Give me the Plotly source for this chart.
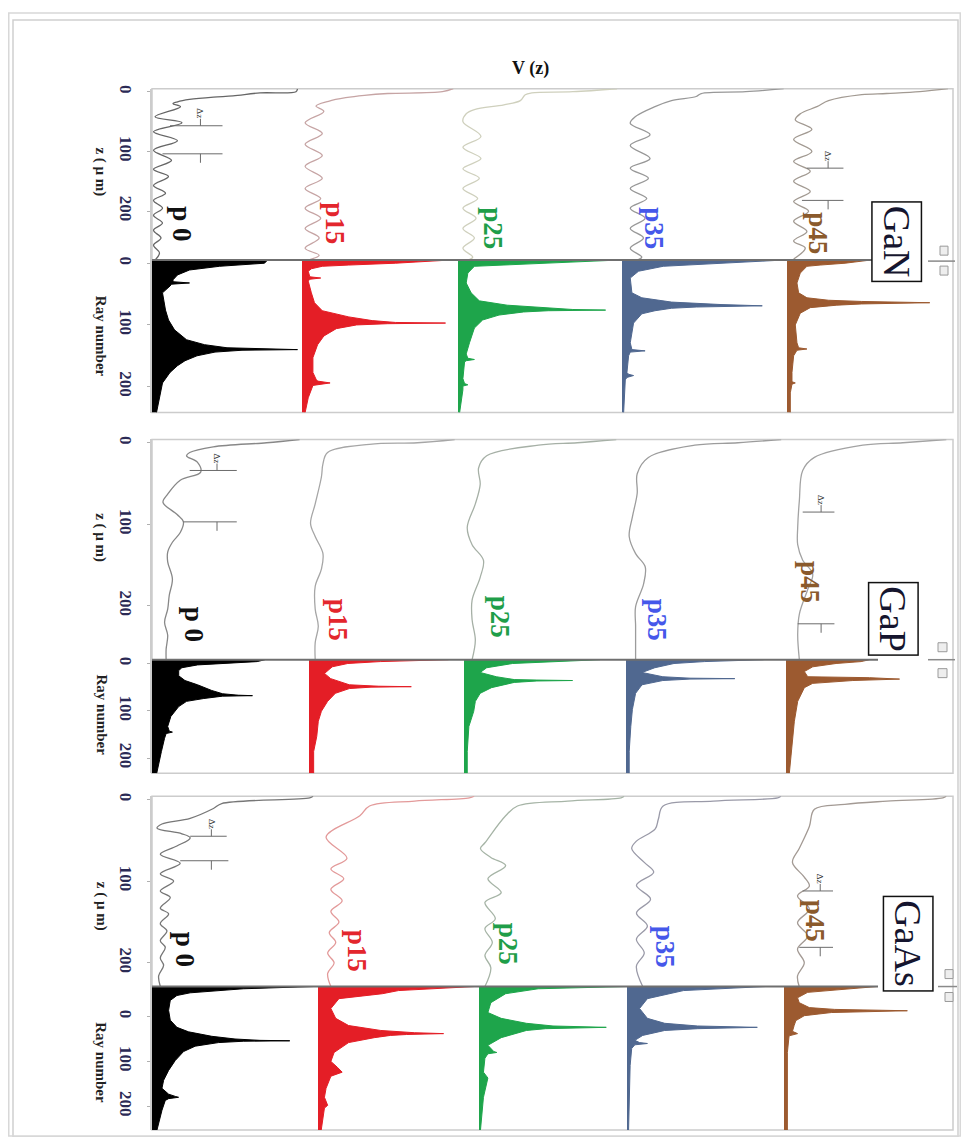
import plotly.graph_objects as go

# ------------------------------------------------------------------ data
COLS = ["p 0", "p15", "p25", "p35", "p45"]
MATERIALS = ["GaN", "GaP", "GaAs"]
AXIS_TICKS = [0, 100, 200]

# ---- GaN : V(z) curves (z in um, amplitude as fraction of column width)
GAN_P0_Z = [-5, 0, 2, 7, 9, 13, 17, 20, 25, 42, 52, 67, 82, 98, 115, 130, 142, 157, 170, 182, 195, 207, 220, 232, 245, 257, 270, 282]
GAN_P0_V = [.97, .96, .72, .54, .41, .25, .17, .14, .19, .02, .2, .01, .17, .01, .13, .01, .11, .01, .09, .01, .07, .01, .07, .01, .06, .01, .05, .02]
GAN_P15_Z = [-5, 0, 3, 6, 10, 16, 24, 33, 52, 70, 88, 107, 125, 145, 162, 179, 195, 212, 229, 245, 262, 274, 282]
GAN_P15_V = [.97, .9, .55, .4, .28, .17, .09, .14, .02, .13, .02, .13, .02, .13, .02, .12, .02, .12, .02, .11, .02, .11, .04]
GAN_P25_Z = [-5, 0, 2, 5, 15, 22, 30, 37, 50, 75, 93, 112, 129, 145, 162, 179, 195, 212, 229, 245, 262, 277, 282]
GAN_P25_V = [.97, .7, .45, .41, .38, .28, .1, .05, .03, .14, .03, .14, .03, .13, .03, .12, .03, .11, .03, .1, .03, .09, .06]
GAN_P35_Z = [-5, 0, 3, 8, 15, 25, 42, 53, 72, 90, 112, 128, 145, 162, 179, 195, 212, 229, 245, 262, 277, 282]
GAN_P35_V = [.98, .75, .48, .45, .3, .2, .08, .05, .17, .05, .17, .05, .16, .05, .15, .05, .14, .05, .13, .05, .12, .09]
GAN_P45_Z = [-5, 0, 3, 5, 15, 25, 37, 47, 63, 80, 100, 117, 133, 150, 167, 184, 200, 217, 234, 250, 262, 280]
GAN_P45_V = [.97, .8, .6, .45, .25, .18, .08, .05, .15, .04, .15, .04, .14, .04, .14, .04, .13, .04, .12, .04, .11, .04]

# ---- GaN : ray-number histograms
GAN_H0_R = [-5, 0, 5, 11, 19, 27, 30, 32, 34, 37, 48, 76, 92, 108, 124, 132, 137, 139, 140, 141, 144, 150, 158, 166, 177, 194, 221, 242]
GAN_H0_A = [.77, .75, .45, .25, .17, .14, .14, .25, .13, .12, .07, .09, .11, .15, .23, .35, .5, .75, .97, .6, .42, .3, .22, .17, .12, .07, .05, .03]
GAN_H1_R = [-5, 0, 3, 5, 9, 13, 22, 24, 26, 29, 48, 64, 77, 87, 93, 96, 97, 98, 100, 106, 118, 132, 153, 177, 188, 191, 194, 198, 218, 242]
GAN_H1_A = [.94, .6, .3, .13, .06, .04, .05, .12, .05, .04, .06, .08, .13, .3, .45, .6, .92, .55, .35, .22, .14, .1, .07, .07, .09, .1, .18, .07, .04, .02]
GAN_H2_R = [-5, 0, 3, 5, 16, 32, 48, 61, 68, 72, 75, 76, 77, 79, 84, 92, 105, 129, 147, 154, 156, 158, 160, 187, 195, 197, 199, 205, 242]
GAN_H2_A = [.97, .5, .2, .1, .06, .05, .08, .13, .3, .5, .7, .9, .55, .4, .25, .15, .1, .07, .05, .06, .1, .05, .04, .03, .04, .06, .03, .03, .01]
GAN_H3_R = [-5, 0, 3, 5, 13, 24, 48, 56, 63, 67, 69, 71, 73, 77, 82, 97, 129, 140, 142, 144, 150, 177, 180, 182, 185, 189, 242]
GAN_H3_A = [.97, .6, .35, .25, .1, .05, .06, .12, .3, .6, .85, .45, .3, .2, .12, .07, .05, .06, .14, .05, .04, .03, .04, .07, .03, .02, .01]
GAN_H4_R = [-5, 0, 3, 5, 16, 32, 48, 56, 60, 62, 64, 66, 68, 72, 81, 100, 129, 137, 139, 141, 150, 177, 192, 194, 196, 210, 242]
GAN_H4_A = [.5, .35, .2, .12, .08, .06, .07, .12, .25, .45, .86, .45, .3, .14, .08, .05, .06, .07, .12, .06, .04, .03, .03, .05, .03, .02, .02]

# ---- GaP : V(z) curves
GAP_P0_Z = [-4, 0, 5, 12, 16, 24, 36, 46, 63, 73, 88, 97, 110, 122, 134, 146, 167, 187, 204, 220, 236, 253, 266]
GAP_P0_V = [.94, .73, .39, .24, .22, .29, .31, .18, .1, .07, .16, .2, .18, .13, .1, .1, .13, .11, .1, .08, .1, .09, .09]
GAP_P15_Z = [-4, 0, 2, 12, 26, 42, 75, 99, 115, 136, 155, 176, 204, 225, 245, 266]
GAP_P15_V = [.94, .7, .39, .12, .09, .08, .04, .01, .04, .09, .08, .04, .04, .06, .04, .04]
GAP_P25_Z = [-4, 0, 3, 16, 31, 51, 75, 104, 125, 144, 165, 193, 217, 242, 266]
GAP_P25_V = [.94, .7, .46, .14, .09, .1, .07, .02, .05, .12, .1, .05, .05, .07, .05]
GAP_P35_Z = [-4, 0, 3, 18, 38, 62, 91, 115, 136, 152, 173, 201, 225, 250, 266]
GAP_P35_V = [.97, .7, .43, .14, .07, .07, .04, .02, .06, .12, .11, .06, .06, .06, .06]
GAP_P45_Z = [-4, 0, 3, 18, 34, 71, 104, 125, 144, 161, 180, 210, 235, 266]
GAP_P45_V = [.96, .7, .46, .17, .1, .08, .07, .07, .1, .16, .13, .08, .07, .08]

# ---- GaP : ray-number histograms
GAP_H0_R = [-8, -4, 3, 9, 15, 26, 36, 45, 57, 64, 67, 68, 69, 71, 74, 80, 91, 112, 133, 143, 145, 148, 158, 186, 220, 232]
GAP_H0_A = [.72, .67, .29, .19, .17, .17, .21, .29, .38, .45, .55, .64, .45, .38, .33, .22, .17, .12, .1, .11, .13, .09, .08, .06, .04, .03]
GAP_H1_R = [-8, -4, 0, 7, 21, 32, 45, 48, 49, 50, 53, 63, 80, 101, 122, 154, 186, 232]
GAP_H1_A = [.9, .46, .25, .15, .1, .14, .26, .45, .66, .4, .26, .17, .12, .08, .06, .05, .03, .03]
GAP_H2_R = [-8, -4, 0, 9, 19, 28, 34, 35, 36, 37, 40, 51, 63, 80, 101, 133, 186, 232]
GAP_H2_A = [.84, .52, .3, .14, .1, .2, .31, .45, .67, .45, .31, .17, .1, .07, .06, .03, .02, .02]
GAP_H3_R = [-8, -4, 0, 9, 19, 28, 31, 32, 33, 36, 45, 63, 97, 133, 186, 232]
GAP_H3_A = [.86, .49, .3, .18, .1, .23, .4, .68, .4, .23, .1, .06, .04, .03, .02, .02]
GAP_H4_R = [-8, -4, 0, 7, 17, 28, 30, 33, 36, 42, 51, 80, 122, 165, 232]
GAP_H4_A = [.5, .45, .3, .16, .11, .13, .5, .68, .4, .16, .11, .07, .05, .04, .02]

# ---- GaAs : V(z) curves
GAAS_P0_Z = [-4, -2, 5, 11, 23, 30, 35, 42, 47, 57, 67, 78, 91, 100, 112, 120, 133, 140, 152, 161, 173, 181, 194, 203, 216, 229]
GAAS_P0_V = [.97, .95, .42, .37, .23, .06, .03, .18, .23, .15, .05, .17, .05, .13, .05, .11, .05, .1, .05, .09, .05, .08, .05, .07, .04, .05]
GAAS_P15_Z = [-4, -2, 2, 8, 20, 46, 72, 85, 97, 110, 124, 137, 150, 163, 175, 188, 200, 213, 229]
GAAS_P15_V = [.97, .94, .6, .32, .26, .05, .18, .08, .16, .08, .15, .08, .13, .07, .11, .06, .1, .06, .08]
GAAS_P25_Z = [-4, -2, 2, 8, 20, 53, 60, 71, 81, 97, 114, 126, 146, 158, 175, 191, 206, 229]
GAAS_P25_V = [.98, .96, .6, .26, .18, .04, .01, .08, .18, .06, .15, .04, .11, .04, .09, .04, .08, .04]
GAAS_P35_Z = [-4, -2, 2, 8, 24, 36, 51, 60, 77, 89, 105, 122, 139, 155, 171, 188, 204, 229]
GAAS_P35_V = [.98, .96, .55, .23, .2, .18, .06, .03, .11, .17, .06, .15, .06, .13, .06, .11, .06, .1]
GAAS_P45_Z = [-4, -2, 2, 6, 12, 33, 60, 77, 95, 106, 118, 134, 151, 167, 183, 200, 216, 229]
GAAS_P45_V = [.96, .94, .61, .36, .18, .15, .09, .05, .12, .15, .08, .15, .08, .14, .08, .12, .08, .09]

# ---- GaAs : ray-number histograms
GAAS_H0_R = [-67, -62, -53, -47, -36, -14, 8, 24, 34, 44, 50, 53, 54, 55, 58, 66, 78, 98, 120, 142, 160, 173, 178, 180, 183, 187, 209, 253]
GAAS_H0_A = [.97, .55, .23, .15, .11, .1, .11, .15, .22, .36, .5, .65, .83, .55, .4, .26, .19, .14, .1, .07, .06, .1, .14, .16, .1, .08, .06, .03]
GAAS_H1_R = [-67, -58, -51, -40, -18, 4, 20, 31, 36, 38, 40, 42, 47, 58, 80, 100, 113, 124, 133, 160, 180, 198, 204, 253]
GAAS_H1_A = [.97, .5, .4, .13, .08, .11, .19, .39, .6, .78, .55, .45, .35, .19, .1, .08, .12, .15, .08, .05, .04, .06, .04, .02]
GAAS_H2_R = [-67, -62, -51, -31, -9, 4, 15, 21, 24, 27, 31, 47, 64, 78, 80, 83, 93, 124, 137, 180, 253]
GAAS_H2_A = [.99, .4, .18, .08, .06, .15, .32, .5, .86, .45, .32, .15, .06, .1, .12, .06, .04, .03, .06, .03, .01]
GAAS_H3_R = [-67, -58, -40, -18, 4, 15, 21, 24, 27, 31, 42, 53, 58, 60, 63, 71, 109, 253]
GAAS_H3_A = [.88, .36, .13, .08, .13, .24, .45, .83, .45, .24, .1, .05, .08, .13, .05, .03, .02, .01]
GAAS_H4_R = [-67, -54, -42, -31, -20, -16, -13, -11, -9, -2, 9, 20, 33, 38, 43, 80, 253]
GAAS_H4_A = [.55, .14, .08, .09, .15, .3, .73, .4, .28, .12, .07, .06, .05, .08, .03, .02, .02]

# ---- Delta-z markers (two z levels each, with amplitude extents)
GAN_DZ0_Z, GAN_DZ0_A0, GAN_DZ0_A1 = [57, 104], [.12, .07], [.47, .47]
GAN_DZ4_Z, GAN_DZ4_A0, GAN_DZ4_A1 = [128, 182], [.12, .09], [.34, .34]
GAP_DZ0_Z, GAP_DZ0_A0, GAP_DZ0_A1 = [34, 97], [.24, .2], [.54, .54]
GAP_DZ4_Z, GAP_DZ4_A0, GAP_DZ4_A1 = [85, 222], [.1, .07], [.29, .29]
GAAS_DZ0_Z, GAAS_DZ0_A0, GAAS_DZ0_A1 = [45, 75], [.23, .17], [.45, .46]
GAAS_DZ4_Z, GAAS_DZ4_A0, GAAS_DZ4_A1 = [112, 181], [.11, .09], [.29, .29]

VZ = [
    [(GAN_P0_Z, GAN_P0_V), (GAN_P15_Z, GAN_P15_V), (GAN_P25_Z, GAN_P25_V), (GAN_P35_Z, GAN_P35_V), (GAN_P45_Z, GAN_P45_V)],
    [(GAP_P0_Z, GAP_P0_V), (GAP_P15_Z, GAP_P15_V), (GAP_P25_Z, GAP_P25_V), (GAP_P35_Z, GAP_P35_V), (GAP_P45_Z, GAP_P45_V)],
    [(GAAS_P0_Z, GAAS_P0_V), (GAAS_P15_Z, GAAS_P15_V), (GAAS_P25_Z, GAAS_P25_V), (GAAS_P35_Z, GAAS_P35_V), (GAAS_P45_Z, GAAS_P45_V)],
]
HIST = [
    [(GAN_H0_R, GAN_H0_A), (GAN_H1_R, GAN_H1_A), (GAN_H2_R, GAN_H2_A), (GAN_H3_R, GAN_H3_A), (GAN_H4_R, GAN_H4_A)],
    [(GAP_H0_R, GAP_H0_A), (GAP_H1_R, GAP_H1_A), (GAP_H2_R, GAP_H2_A), (GAP_H3_R, GAP_H3_A), (GAP_H4_R, GAP_H4_A)],
    [(GAAS_H0_R, GAAS_H0_A), (GAAS_H1_R, GAAS_H1_A), (GAAS_H2_R, GAAS_H2_A), (GAAS_H3_R, GAAS_H3_A), (GAAS_H4_R, GAAS_H4_A)],
]
DZ = [
    [(0, GAN_DZ0_Z, GAN_DZ0_A0, GAN_DZ0_A1), (4, GAN_DZ4_Z, GAN_DZ4_A0, GAN_DZ4_A1)],
    [(0, GAP_DZ0_Z, GAP_DZ0_A0, GAP_DZ0_A1), (4, GAP_DZ4_Z, GAP_DZ4_A0, GAP_DZ4_A1)],
    [(0, GAAS_DZ0_Z, GAAS_DZ0_A0, GAAS_DZ0_A1), (4, GAAS_DZ4_Z, GAAS_DZ4_A0, GAAS_DZ4_A1)],
]

# ------------------------------------------------------------------ layout / style
W, H = 969, 1145
OFF = 8                      # default body margin of the html page
FW, FH = W - 2 * OFF, H - 2 * OFF
RIGHT = 953
SERIF = "Liberation Serif"

PANELS = [
    dict(top=85, mid=257, bot=410, lefts=[152, 302, 458, 622, 787],
         vz_rng=(-5, 282), h_rng=(-5, 242),
         labels=[(182, 220), (335, 220), (493, 225), (654, 225), (818, 230)],
         mat=(897, 238), ztitle=(101, 168), rtitle=(101, 333),
         icons=dict(line=(928, 955, 258), sq=[(940, 948, 243, 252), (940, 948, 263, 272)])),
    dict(top=437, mid=658, bot=772, lefts=[152, 309, 464, 626, 786],
         vz_rng=(-4, 266), h_rng=(-8, 232),
         labels=[(194, 622), (338, 618), (500, 615), (657, 618), (810, 580)],
         mat=(893, 617), ztitle=(101, 535), rtitle=(102, 713),
         icons=dict(line=(928, 955, 658), sq=[(938, 947, 641, 650), (938, 947, 667, 676)])),
    dict(top=795, mid=986, bot=1130, lefts=[152, 318, 479, 627, 784],
         vz_rng=(-4, 229), h_rng=(-67, 253),
         labels=[(185, 948), (357, 950), (508, 943), (665, 946), (815, 920)],
         mat=(908, 943), ztitle=(101, 905), rtitle=(101, 1062),
         icons=dict(line=(938, 957, 986), sq=[(945, 953, 969, 978), (945, 953, 992, 1001)])),
]

LABEL_COLORS = ["#111111", "#e3262d", "#1f9e49", "#4558ea", "#8a5a2c"]
HIST_COLORS = ["#000000", "#e41e26", "#1ea54b", "#506890", "#9c5a30"]
VZ_COLORS = [
    ["#666666", "#c6a4a4", "#cfd0bd", "#989898", "#a29a92"],
    ["#888888", "#a6a6a6", "#a6b0a6", "#9c9c9c", "#a3a3a3"],
    ["#777777", "#e39a9a", "#a6b4a6", "#9a9aa8", "#a39a94"],
]


def fx(x):
    return (x - OFF) / FW


def fy(y):
    return 1 - (y - OFF) / FH


def axname(kind, n):
    return kind if n == 1 else f"{kind}{n}"


def note(**kw):
    kw.setdefault("xanchor", "center")
    kw.setdefault("yanchor", "middle")
    kw.setdefault("showarrow", False)
    return kw


fig = go.Figure()
layout = {}
annotations = []
shapes = []

for p, P in enumerate(PANELS):
    rights = P["lefts"][1:] + [RIGHT]
    for r in range(2):
        j = p * 2 + r + 1
        top, bot = (P["top"], P["mid"]) if r == 0 else (P["mid"], P["bot"])
        lo, hi = P["vz_rng"] if r == 0 else P["h_rng"]
        first_x = p * 10 + r * 5 + 1
        layout["yaxis" if j == 1 else f"yaxis{j}"] = dict(
            domain=[fy(bot), fy(top)], range=[hi, lo], anchor=axname("x", first_x),
            tickvals=AXIS_TICKS, ticktext=[f"<b>{t}</b>" for t in AXIS_TICKS],
            tickangle=90, tickfont=dict(family=SERIF, size=17, color="#2b2a55"),
            ticks="outside", ticklen=3, tickcolor="#b0b0b0", ticklabelstandoff=7,
            showline=True, linecolor="#cccccc", linewidth=1.5,
            showgrid=False, zeroline=False, fixedrange=True)
        for c in range(5):
            k = p * 10 + r * 5 + c + 1
            layout["xaxis" if k == 1 else f"xaxis{k}"] = dict(
                domain=[fx(P["lefts"][c]), fx(rights[c])], range=[0, 1],
                anchor=axname("y", j), visible=False, fixedrange=True)
            xa, ya = axname("x", k), axname("y", j)
            if r == 0:
                zz, vv = VZ[p][c]
                fig.add_trace(go.Scatter(
                    x=vv, y=zz, mode="lines", xaxis=xa, yaxis=ya,
                    line=dict(color=VZ_COLORS[p][c], width=1.3, shape="spline", smoothing=1.0),
                    showlegend=False, hoverinfo="skip"))
            else:
                rr, aa = HIST[p][c]
                fig.add_trace(go.Scatter(
                    x=aa, y=rr, mode="lines", xaxis=xa, yaxis=ya, fill="tozerox",
                    fillcolor=HIST_COLORS[c], line=dict(color=HIST_COLORS[c], width=1),
                    showlegend=False, hoverinfo="skip"))

    # delta-z markers
    lo, hi = P["vz_rng"]
    upp = (hi - lo) / (P["mid"] - P["top"])   # data units per pixel
    for c, zs, a0s, a1s in DZ[p]:
        k = p * 10 + c + 1
        xa, ya = axname("x", k), axname("y", p * 2 + 1)
        fig.add_trace(go.Scatter(
            x=[a0s[0], a1s[0], None, a0s[1], a1s[1]], y=[zs[0], zs[0], None, zs[1], zs[1]],
            mode="lines", xaxis=xa, yaxis=ya, line=dict(color="#6b6b6b", width=1),
            showlegend=False, hoverinfo="skip"))
        am = a1s[0] - 0.42 * (a1s[0] - a0s[0])
        fig.add_trace(go.Scatter(
            x=[am, am, None, am, am], y=[zs[0] - 7 * upp, zs[0], None, zs[1], zs[1] + 9 * upp],
            mode="lines", xaxis=xa, yaxis=ya, line=dict(color="#6b6b6b", width=1),
            showlegend=False, hoverinfo="skip"))
        annotations.append(note(
            x=am, y=zs[0] - 12 * upp, xref=xa, yref=ya, text="Δz",
            textangle=90, font=dict(family=SERIF, size=9, color="#333333")))

    # column labels
    for c, (lx, ly) in enumerate(P["labels"]):
        annotations.append(note(
            x=fx(lx), y=fy(ly), xref="paper", yref="paper", text=f"<b>{COLS[c]}</b>",
            textangle=90, font=dict(family=SERIF, size=27, color=LABEL_COLORS[c])))

    # material box
    mx, my = P["mat"]
    annotations.append(note(
        x=fx(mx), y=fy(my), xref="paper", yref="paper", text=MATERIALS[p],
        textangle=90, bordercolor="#111111", borderwidth=1.5,
        borderpad=3, bgcolor="#ffffff",
        font=dict(family=SERIF, size=38, color="#15152e")))

    # axis titles
    for (tx, ty), txt in ((P["ztitle"], "z ( μ m)"), (P["rtitle"], "Ray number")):
        annotations.append(note(
            x=fx(tx), y=fy(ty), xref="paper", yref="paper", text=f"<b>{txt}</b>",
            textangle=90, font=dict(family=SERIF, size=15, color="#222222")))

    # frame, divider, icons
    shapes.append(dict(type="rect", xref="paper", yref="paper",
                       x0=fx(152), x1=fx(RIGHT), y0=fy(P["bot"]), y1=fy(P["top"]),
                       line=dict(color="#cccccc", width=1.5), layer="below"))
    shapes.append(dict(type="line", xref="paper", yref="paper",
                       x0=fx(152), x1=fx(878), y0=fy(P["mid"]), y1=fy(P["mid"]),
                       line=dict(color="#6f6f6f", width=2)))
    ix0, ix1, iy = P["icons"]["line"]
    shapes.append(dict(type="line", xref="paper", yref="paper",
                       x0=fx(ix0), x1=fx(ix1), y0=fy(iy), y1=fy(iy),
                       line=dict(color="#8a8a8a", width=1.5)))
    for sx0, sx1, sy0, sy1 in P["icons"]["sq"]:
        shapes.append(dict(type="rect", xref="paper", yref="paper",
                           x0=fx(sx0), x1=fx(sx1), y0=fy(sy1), y1=fy(sy0),
                           line=dict(color="#9a9a9a", width=1), fillcolor="#eeeeee"))

# outer frames
shapes.append(dict(type="rect", xref="paper", yref="paper",
                   x0=fx(13), x1=fx(958), y0=fy(1137), y1=fy(16),
                   line=dict(color="#cfcfcf", width=1.5), layer="below"))
shapes.append(dict(type="rect", xref="paper", yref="paper",
                   x0=0.0008, x1=0.9992, y0=0.0008, y1=0.9992,
                   line=dict(color="#d8d8d8", width=1.5), layer="below"))

annotations.append(note(x=fx(530), y=fy(65), xref="paper", yref="paper",
                        text="<b>V (z)</b>",
                        font=dict(family=SERIF, size=18, color="#111111")))

fig.update_layout(
    width=FW, height=FH, margin=dict(l=0, r=0, t=0, b=0),
    paper_bgcolor="#ffffff", plot_bgcolor="rgba(0,0,0,0)",
    annotations=annotations, shapes=shapes, **layout)

fig.write_html("out.html")
